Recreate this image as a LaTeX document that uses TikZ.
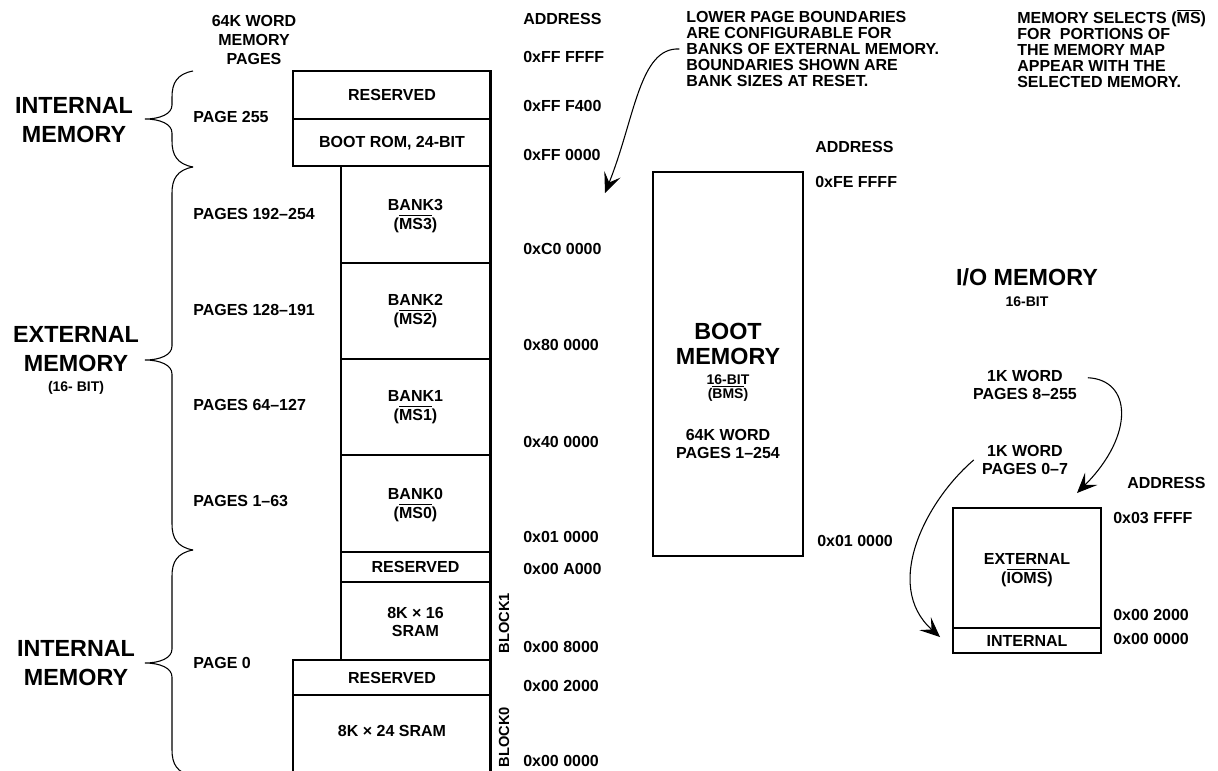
\documentclass[tikz,border=0pt]{standalone}
\usepackage{fontspec}
\setmainfont{Liberation Sans}
\usepackage{tikz}
\usetikzlibrary{arrows.meta}

% overline drawn as a rule over the letters
\newsavebox\ovlbox
\newcommand{\ovl}[1]{\sbox\ovlbox{#1}\rlap{\rule[\dimexpr\ht\ovlbox+1.3pt\relax]{\wd\ovlbox}{0.9pt}}\usebox\ovlbox}

% curly brace: top, tip, bottom (pixel rows)
\newcommand{\memBrace}[3]{%
  \draw[curly] (193,#1) .. controls (177,#1+3) and (172,#1+12) .. (172,#1+26)
    -- (172,#2-14) .. controls (172,#2-5) and (160,#2) .. (145,#2)
    .. controls (160,#2) and (172,#2+5) .. (172,#2+14)
    -- (172,#3-26) .. controls (172,#3-12) and (177,#3-3) .. (193,#3);}

\begin{document}
\begin{tikzpicture}[x=0.75pt, y=-0.75pt,
  lbl/.style={font=\fontsize{12}{14}\selectfont\bfseries, inner sep=0pt, align=center},
  notetxt/.style={font=\fontsize{12}{12}\selectfont\bfseries, inner sep=0pt, align=left, anchor=west},
  addr/.style={lbl, anchor=west},
  bigtxt/.style={font=\fontsize{17.5}{21.8}\selectfont\bfseries, inner sep=0pt, align=center},
  smalltxt/.style={font=\fontsize{10.5}{11}\selectfont\bfseries, inner sep=0pt, align=center},
  blocktxt/.style={font=\fontsize{11}{13}\selectfont\bfseries, inner sep=0pt, rotate=90},
  membox/.style={line width=2.2pt},
  curly/.style={line width=0.8pt},
  conn/.style={line width=0.8pt, -{Stealth[length=15pt,width=13pt,inset=6.5pt]}}]
  \useasboundingbox (0,0) rectangle (1218,771);

  % Braces and region names
  \memBrace{71}{119}{167}
  \memBrace{167}{360}{550}
  \memBrace{550}{663}{776}
  \node[bigtxt] (intTop) at (74,120) {INTERNAL\\MEMORY};
  \node[bigtxt] (extLbl) at (76,349) {EXTERNAL\\MEMORY};
  \node[smalltxt] (extBit) at (76,388) {(16- BIT)};
  \node[bigtxt] (intBot) at (76,663) {INTERNAL\\MEMORY};

  % Page column
  \node[lbl] (pgHead) at (254,40) {64K WORD\\MEMORY\\PAGES};
  \node[addr] (pg255) at (193,117) {PAGE 255};
  \node[addr] (pg192) at (193,214) {PAGES 192–254};
  \node[addr] (pg128) at (193,310) {PAGES 128–191};
  \node[addr] (pg64) at (193,405) {PAGES 64–127};
  \node[addr] (pg1) at (193,501) {PAGES 1–63};
  \node[addr] (pg0) at (193,663) {PAGE 0};

  % Memory map column
  \draw[membox] (293,71) rectangle (490.5,119);
  \node[lbl] (resTop) at (392,95) {RESERVED};
  \draw[membox] (293,119) rectangle (490.5,166);
  \node[lbl] (bootRom) at (392,143) {BOOT ROM, 24-BIT};
  \draw[membox] (341,166) rectangle (490.5,263);
  \node[lbl] (bank3) at (415.5,216) {BANK3\\(\ovl{MS3})};
  \draw[membox] (341,263) rectangle (490.5,359);
  \node[lbl] (bank2) at (415.5,311) {BANK2\\(\ovl{MS2})};
  \draw[membox] (341,359) rectangle (490.5,455);
  \node[lbl] (bank1) at (415.5,407) {BANK1\\(\ovl{MS1})};
  \draw[membox] (341,455) rectangle (490.5,552);
  \node[lbl] (bank0) at (415.5,505) {BANK0\\(\ovl{MS0})};
  \draw[membox] (341,552) rectangle (490.5,582);
  \node[lbl] (resMid) at (415.5,567) {RESERVED};
  \draw[membox] (341,582) rectangle (490.5,660);
  \node[lbl] (sram16) at (415.5,622) {8K × 16\\SRAM};
  \draw[membox] (293,660) rectangle (490.5,695);
  \node[lbl] (resLow) at (392,678) {RESERVED};
  \draw[membox] (293,790) -- (293,695) -- (490.5,695) -- (490.5,790);
  \node[lbl] (sram24) at (392,731) {8K × 24 SRAM};
  \node[blocktxt] (blk1) at (504,623) {BLOCK1};
  \node[blocktxt] (blk0) at (504,737) {BLOCK0};

  % Addresses
  \node[addr] (adHead) at (523,19) {ADDRESS};
  \node[addr] (ad1) at (523,57) {0xFF FFFF};
  \node[addr] (ad2) at (523,106) {0xFF F400};
  \node[addr] (ad3) at (523,155) {0xFF 0000};
  \node[addr] (ad4) at (523,249) {0xC0 0000};
  \node[addr] (ad5) at (523,345) {0x80 0000};
  \node[addr] (ad6) at (523,442) {0x40 0000};
  \node[addr] (ad7) at (523,537) {0x01 0000};
  \node[addr] (ad8) at (523,569) {0x00 A000};
  \node[addr] (ad9) at (523,647) {0x00 8000};
  \node[addr] (ad10) at (523,686) {0x00 2000};
  \node[addr] (ad11) at (523,761) {0x00 0000};

  % Notes
  \node[notetxt] (lowNote) at (686,49) {LOWER PAGE BOUNDARIES\\ARE CONFIGURABLE FOR\\BANKS OF EXTERNAL MEMORY.\\BOUNDARIES SHOWN ARE\\BANK SIZES AT RESET.};
  \node[notetxt] (selNote) at (1017,49) {MEMORY SELECTS (\ovl{MS})\\FOR\ \ PORTIONS OF\\THE MEMORY MAP\\APPEAR WITH THE\\SELECTED MEMORY.};

  % Boot memory
  \draw[membox] (653,172) rectangle (803,556);
  \node[bigtxt, font=\fontsize{17.5}{19}\selectfont\bfseries] (bootLbl) at (728,344) {BOOT\\MEMORY};
  \node[smalltxt] (bootBit) at (728,388) {16-BIT\\(\ovl{BMS})};
  \node[lbl] (bootPg) at (728,444) {64K WORD\\PAGES 1–254};
  \node[addr] (bAdHead) at (815,147) {ADDRESS};
  \node[addr] (bAd1) at (815,182) {0xFE FFFF};
  \node[addr] (bAd2) at (817,541) {0x01 0000};
  \coordinate (bootTip) at (605,193);
  \draw[conn] ([xshift=-5pt]lowNote.west) .. controls +(-40,-2) and +(30,-75) .. (bootTip);

  % I/O memory
  \node[bigtxt] (ioLbl) at (1027,277) {I/O MEMORY};
  \node[smalltxt] (ioBit) at (1027,302) {16-BIT};
  \node[lbl] (io1k8) at (1025,385) {1K WORD\\PAGES 8–255};
  \node[lbl] (io1k0) at (1025,460) {1K WORD\\PAGES 0–7};
  \draw[membox] (953,508) rectangle (1101,653);
  \draw[membox] (953,628) -- (1101,628);
  \node[lbl] (ioExt) at (1027,570) {EXTERNAL\\(\ovl{IOMS})};
  \node[lbl] (ioInt) at (1027,641) {INTERNAL};
  \node[addr] (iAdHead) at (1127,483) {ADDRESS};
  \node[addr] (iAd1) at (1113,518) {0x03 FFFF};
  \node[addr] (iAd2) at (1113,615) {0x00 2000};
  \node[addr] (iAd3) at (1113,639) {0x00 0000};
  \coordinate (ioTipA) at (1077,493);
  \coordinate (ioTipB) at (940,637);
  \draw[conn] ([xshift=8pt,yshift=-6pt]io1k8.north east) .. controls +(44,2) and +(58,-58) .. (ioTipA);
  \draw[conn] ([xshift=-6pt]io1k0.west) .. controls +(-47,40) and +(-58,-52) .. (ioTipB);
\end{tikzpicture}
\end{document}
